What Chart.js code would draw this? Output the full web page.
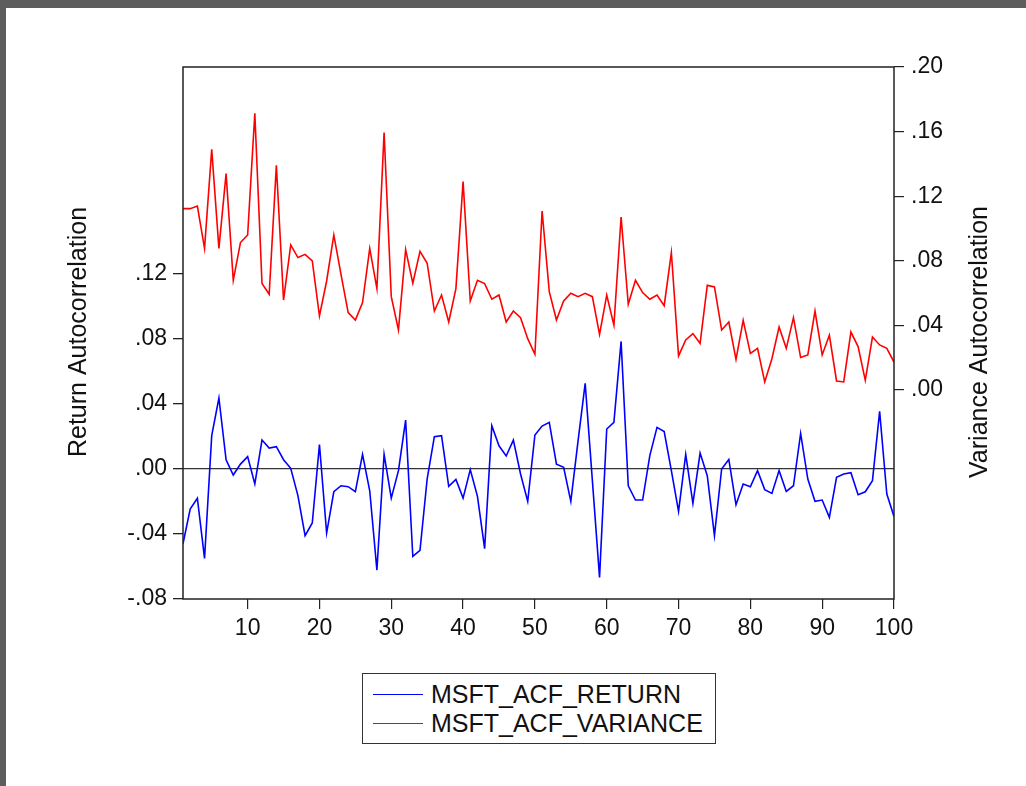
<!DOCTYPE html>
<html>
<head>
<meta charset="utf-8">
<title>MSFT ACF</title>
<script src="https://cdn.jsdelivr.net/npm/chart.js@4.4.1/dist/chart.umd.min.js"></script>
<style>
    html, body { margin: 0; padding: 0; background: #ffffff; }
    body { width: 1026px; height: 786px; position: relative; overflow: hidden; font-family: "Liberation Sans", Arial, sans-serif; }
    .frame-top { position: absolute; left: 0; top: 0; width: 1026px; height: 8px; background: #5d5d5d; }
    .frame-left { position: absolute; left: 0; top: 0; width: 6px; height: 786px; background: #5d5d5d; }
    #chart-wrap { position: absolute; left: 0; top: 0; width: 1026px; height: 786px; }
    #legend {
        position: absolute; left: 362px; top: 673px; width: 354px; height: 71px;
        border: 1.5px solid #333; background: #fff; box-sizing: border-box;
    }
    .legend-row { position: absolute; left: 0; height: 28px; display: flex; align-items: center; }
    .legend-line { width: 50px; height: 0; border-top: 1.5px solid; margin-left: 10px; margin-right: 8px; }
    .legend-text { font-size: 25px; color: #111; white-space: nowrap; }
</style>
</head>
<body>
<div class="frame-top"></div>
<div class="frame-left"></div>
<div id="chart-wrap"><canvas id="acfChart"></canvas></div>
<div id="legend"></div>

<script>
// Lags on the x axis
const LAGS = Array.from({ length: 100 }, (_, i) => i + 1);

// Autocorrelation of returns (left axis)
const RETURN_ACF = [
    -0.046, -0.0246, -0.018, -0.055, 0.0205, 0.0437, 0.0057, -0.0037, 0.003, 0.0076,
    -0.0092, 0.0178, 0.0129, 0.0137, 0.0057, 0.0004, -0.0164, -0.041, -0.0332, 0.015,
    -0.0394, -0.014, -0.0103, -0.0109, -0.014, 0.009, -0.0134, -0.0622, 0.009, -0.018,
    -0.001, 0.0301, -0.0538, -0.0501, -0.006, 0.0199, 0.0205, -0.0107, -0.0064, -0.0179,
    -0.0004, -0.0168, -0.049, 0.0266, 0.0143, 0.008, 0.0178, -0.0031, -0.0199, 0.0209,
    0.0264, 0.0287, 0.003, 0.001, -0.0199, 0.017, 0.0527, -0.007, -0.0667, 0.0246,
    0.0287, 0.0785, -0.0103, -0.0191, -0.0191, 0.0082, 0.0256, 0.023, -0.001, -0.0261,
    0.009, -0.0212, 0.0098, -0.0041, -0.041, 0.0, 0.0059, -0.022, -0.0092, -0.0109,
    -0.001, -0.0127, -0.015, -0.001, -0.0138, -0.0103, 0.0219, -0.0062, -0.0199, -0.0191,
    -0.0298, -0.0051, -0.0031, -0.0023, -0.0158, -0.014, -0.0072, 0.0355, -0.0154, -0.0292
];

// Autocorrelation of variance (right axis)
const VARIANCE_ACF = [
    0.1123, 0.1123, 0.1139, 0.0877, 0.149, 0.0877, 0.134, 0.0679, 0.0913, 0.096,
    0.1713, 0.0659, 0.0593, 0.1391, 0.0557, 0.0898, 0.082, 0.084, 0.0799, 0.0458,
    0.0675, 0.096, 0.0716, 0.0479, 0.0433, 0.0541, 0.0877, 0.0628, 0.1594, 0.0578,
    0.0372, 0.0869, 0.0661, 0.0858, 0.0785, 0.0489, 0.0588, 0.0421, 0.0628, 0.129,
    0.0551, 0.0679, 0.0659, 0.0562, 0.0588, 0.0421, 0.0489, 0.0448, 0.0318, 0.0221,
    0.1108, 0.0609, 0.0433, 0.0551, 0.0599, 0.0578, 0.0599, 0.0578, 0.0345, 0.0588,
    0.0401, 0.1071, 0.0531, 0.0679, 0.0603, 0.0562, 0.0588, 0.0522, 0.0851, 0.0211,
    0.031, 0.0349, 0.0289, 0.0648, 0.0638, 0.0372, 0.0421, 0.019, 0.0432, 0.0227,
    0.0258, 0.005, 0.0194, 0.039, 0.0258, 0.0448, 0.0201, 0.0217, 0.0489, 0.0217,
    0.0339, 0.0056, 0.005, 0.0359, 0.0269, 0.006, 0.0328, 0.0279, 0.0258, 0.0173
];

// Tick labels
const X_TICKS = [10, 20, 30, 40, 50, 60, 70, 80, 90, 100];
const LEFT_TICKS = [-0.08, -0.04, 0.0, 0.04, 0.08, 0.12];
const RIGHT_TICKS = [0.0, 0.04, 0.08, 0.12, 0.16, 0.20];

const SERIES_NAMES = ["MSFT_ACF_RETURN", "MSFT_ACF_VARIANCE"];
const SERIES_COLORS = ["#0000ff", "#ff0000"];
const LEFT_TITLE = "Return Autocorrelation";
const RIGHT_TITLE = "Variance Autocorrelation";

const FONT_FAMILY = "'Liberation Sans', Arial, sans-serif";
const AXIS_COLOR = "#222";

// EViews style labels: ".04", "-.08"
function fmtTick(v) {
    const s = Math.abs(v).toFixed(2).replace(/^0/, "");
    return (v < -1e-9 ? "-" : "") + s;
}

// Draw frame around the plot and the two rotated axis titles
const framePlugin = {
    id: "framePlugin",
    afterDatasetsDraw(chart) {
        const { ctx, chartArea: a } = chart;
        ctx.save();
        ctx.strokeStyle = AXIS_COLOR;
        ctx.lineWidth = 1.5;
        ctx.strokeRect(a.left, a.top, a.right - a.left, a.bottom - a.top);
        ctx.restore();
    },
    afterDraw(chart) {
        const { ctx } = chart;
        ctx.save();
        ctx.fillStyle = "#111";
        ctx.font = "25px " + FONT_FAMILY;
        ctx.textAlign = "center";
        ctx.textBaseline = "middle";

        ctx.save();
        ctx.translate(79, 332);
        ctx.rotate(-Math.PI / 2);
        ctx.fillText(LEFT_TITLE, 0, 0);
        ctx.restore();

        ctx.save();
        ctx.translate(980, 342);
        ctx.rotate(-Math.PI / 2);
        ctx.fillText(RIGHT_TITLE, 0, 0);
        ctx.restore();

        ctx.restore();
    }
};

function setTicks(values) {
    return scale => { scale.ticks = values.map(v => ({ value: v })); };
}

document.addEventListener("DOMContentLoaded", () => {
    const tickFont = { family: FONT_FAMILY, size: 23 };

    new Chart(document.getElementById("acfChart"), {
        type: "line",
        data: {
            datasets: [
                {
                    label: SERIES_NAMES[0],
                    data: LAGS.map((lag, i) => ({ x: lag, y: RETURN_ACF[i] })),
                    borderColor: SERIES_COLORS[0],
                    borderWidth: 1.6,
                    pointRadius: 0,
                    tension: 0,
                    yAxisID: "y"
                },
                {
                    label: SERIES_NAMES[1],
                    data: LAGS.map((lag, i) => ({ x: lag, y: VARIANCE_ACF[i] })),
                    borderColor: SERIES_COLORS[1],
                    borderWidth: 1.6,
                    pointRadius: 0,
                    tension: 0,
                    yAxisID: "y1"
                }
            ]
        },
        options: {
            responsive: true,
            maintainAspectRatio: false,
            animation: false,
            layout: { padding: { top: 67, left: 0, right: 0, bottom: 0 } },
            plugins: {
                legend: { display: false },
                tooltip: { enabled: false }
            },
            scales: {
                x: {
                    type: "linear",
                    min: 1,
                    max: 100,
                    afterBuildTicks: setTicks(X_TICKS),
                    afterFit: s => { s.height = 187; },
                    border: { display: false },
                    grid: { drawOnChartArea: false, tickLength: 10, tickColor: AXIS_COLOR, lineWidth: 1.2 },
                    ticks: { font: tickFont, color: "#111", padding: 6, maxRotation: 0, callback: v => String(v) }
                },
                y: {
                    position: "left",
                    min: -0.08,
                    max: -0.08 + 532 / 1625,
                    afterBuildTicks: setTicks(LEFT_TICKS),
                    afterFit: s => { s.width = 183; },
                    border: { display: false },
                    grid: {
                        color: ctx => (ctx.tick && ctx.tick.value === 0 ? "#333" : "rgba(0,0,0,0)"),
                        lineWidth: 1.3,
                        tickLength: 10,
                        tickColor: AXIS_COLOR
                    },
                    ticks: { font: tickFont, color: "#111", padding: 6, callback: v => fmtTick(v) }
                },
                y1: {
                    position: "right",
                    min: 0.20 - 532 / 1615,
                    max: 0.20,
                    afterBuildTicks: setTicks(RIGHT_TICKS),
                    afterFit: s => { s.width = 132; },
                    border: { display: false },
                    grid: { drawOnChartArea: false, tickLength: 10, tickColor: AXIS_COLOR, lineWidth: 1.2 },
                    ticks: { font: tickFont, color: "#111", padding: 7, callback: v => fmtTick(v) }
                }
            }
        },
        plugins: [framePlugin]
    });

    // HTML legend built from the series names and colours
    const legend = document.getElementById("legend");
    SERIES_NAMES.forEach((name, i) => {
        const row = document.createElement("div");
        row.className = "legend-row";
        row.style.top = (6 + i * 29) + "px";
        row.innerHTML = `<div class="legend-line" style="border-color:${SERIES_COLORS[i]}"></div>` +
            `<span class="legend-text">${name}</span>`;
        legend.appendChild(row);
    });
});
</script>
</body>
</html>
